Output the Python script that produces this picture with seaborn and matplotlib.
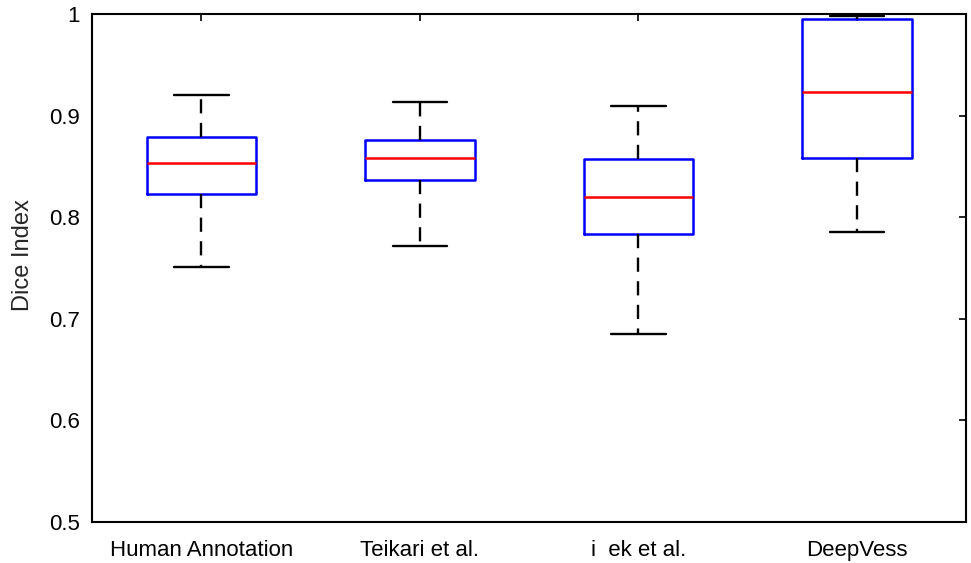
import numpy as np
import pandas as pd
import matplotlib.pyplot as plt
import seaborn as sns

METHODS = ['Human Annotation', 'Teikari et al.', 'i  ek et al.', 'DeepVess']
# five-number summaries: low whisker, Q1, median, Q3, high whisker
LOW = [0.751, 0.772, 0.685, 0.785]
Q1 = [0.823, 0.837, 0.783, 0.858]
MEDIAN = [0.853, 0.858, 0.820, 0.923]
Q3 = [0.879, 0.876, 0.857, 0.995]
HIGH = [0.920, 0.913, 0.909, 0.998]

# five points per method reproduce the summary exactly (linear quartiles)
rows = []
for i, m in enumerate(METHODS):
    for v in (LOW[i], Q1[i], MEDIAN[i], Q3[i], HIGH[i]):
        rows.append({'method': m, 'dice': v})
df = pd.DataFrame(rows)

sns.set_style("white")
plt.rcParams['font.family'] = ['Liberation Sans', 'DejaVu Sans']

fig, ax = plt.subplots(figsize=(9.71, 5.63), dpi=100)
fig.subplots_adjust(left=0.095, right=0.995, top=0.975, bottom=0.073)

sns.boxplot(
    data=df, x='method', y='dice', order=METHODS, ax=ax,
    whis=(0, 100), width=0.5, fill=False, showfliers=False,
    boxprops=dict(color='#0000ff', linewidth=1.8),
    medianprops=dict(color='#ff0000', linewidth=1.8),
    whiskerprops=dict(color='black', linewidth=1.7, linestyle=(0, (6, 4))),
    capprops=dict(color='black', linewidth=1.7),
    capwidths=0.25,
)

ax.set_ylim(0.5, 1.0)
ax.set_xlim(-0.5, 3.5)
ax.set_yticks([0.5, 0.6, 0.7, 0.8, 0.9, 1.0])
ax.set_yticklabels(['0.5', '0.6', '0.7', '0.8', '0.9', '1'])
ax.set_xlabel('')
ax.set_ylabel('Dice Index', fontsize=17)
ax.yaxis.set_label_coords(-0.067, 0.525)
ax.tick_params(axis='both', direction='in', length=5, width=1.2,
               labelsize=16, top=True, right=True, colors='black')
ax.tick_params(axis='x', pad=13)
ax.tick_params(axis='y', pad=9)
for s in ax.spines.values():
    s.set_visible(True)
    s.set_color('black')
    s.set_linewidth(1.5)

fig.savefig('out.png', dpi=100)
